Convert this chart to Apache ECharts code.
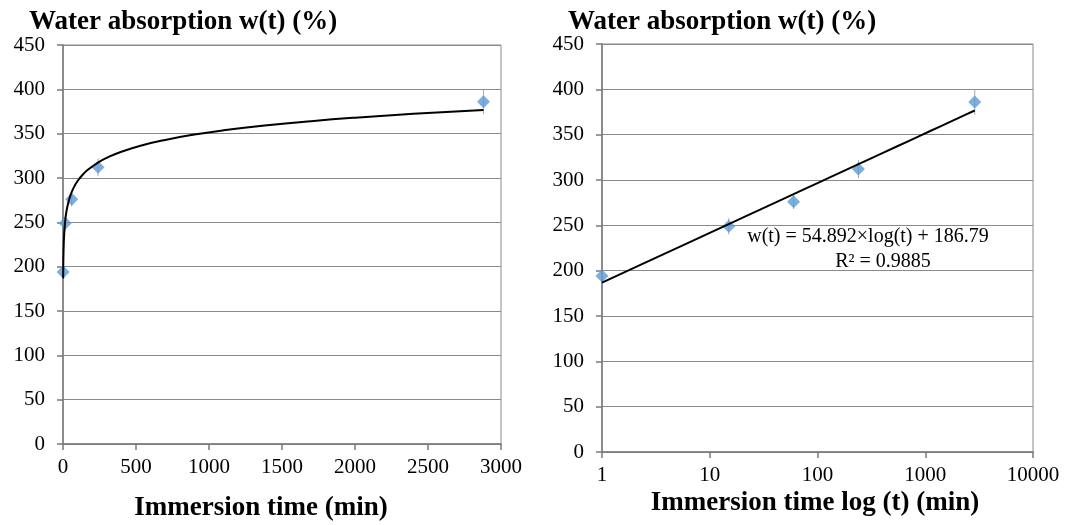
<!DOCTYPE html>
<html>
<head>
<meta charset="utf-8">
<script src="https://cdn.jsdelivr.net/npm/echarts@6/dist/echarts.min.js"></script>
<style>
html,body{margin:0;padding:0;background:#fff;}
#chart{width:1072px;height:525px;}
</style>
</head>
<body>
<div id="chart"></div>
<script>
// ---- data ----
const times = [1, 15, 60, 240, 2880];               // immersion time (min)
const absorption = [194, 249, 276, 312, 386];       // water absorption w(t) (%)
const errors = [3, 9, 8, 10, 14];                   // error bar half-lengths (%)
const yTicks = [0, 50, 100, 150, 200, 250, 300, 350, 400, 450];
const xTicksLinear = [0, 500, 1000, 1500, 2000, 2500, 3000];
const xTicksLog = [1, 10, 100, 1000, 10000];
// regression shown in the chart: w(t) = 54.892×log(t) + 186.79
const fitSlope = 54.892;
const fitIntercept = 186.79;
const fitSamples = [1, 1.5, 2, 3, 5, 7, 10, 15, 20, 30, 45, 60, 80, 100, 130, 170, 240, 300, 400, 550, 700, 900, 1100, 1400, 1700, 2000, 2400, 2880];

const points = times.map((t, i) => [t, absorption[i]]);
const errData = times.map((t, i) => [t, absorption[i] - errors[i], absorption[i] + errors[i]]);
const fitData = fitSamples.map(t => [t, fitSlope * Math.log10(t) + fitIntercept]);

const serif = 'Liberation Serif';
const gridColor = '#8a8a8a';
const axisColor = '#7a7a7a';
const markerColor = '#5B9BD5';
const plain = v => String(v);

function errRender(params, api) {
  const x = api.value(0), lo = api.value(1), hi = api.value(2);
  const p1 = api.coord([x, lo]);
  const p2 = api.coord([x, hi]);
  return {type: 'line', shape: {x1: p1[0], y1: p1[1], x2: p2[0], y2: p2[1]},
          style: {stroke: '#a8a8a8', lineWidth: 1}};
}

const yAxisCommon = {
  type: 'value', min: yTicks[0], max: yTicks[yTicks.length - 1], interval: yTicks[1] - yTicks[0],
  axisLine: {show: true, lineStyle: {color: axisColor, width: 1.5}},
  axisTick: {show: true, inside: false, length: 6, lineStyle: {color: axisColor, width: 1.5}},
  axisLabel: {color: '#000', fontFamily: serif, fontSize: 21, margin: 18, formatter: plain},
  splitLine: {show: true, lineStyle: {color: gridColor, width: 1}}
};
const xLabel = {color: '#000', fontFamily: serif, fontSize: 21, margin: 13, formatter: plain};
const nameStyle = {fontFamily: serif, fontWeight: 'bold', fontSize: 27, fill: '#000'};

const chart = echarts.init(document.getElementById('chart'));
chart.setOption({
  animation: false,
  backgroundColor: '#fff',
  grid: [
    {left: 63, right: 571, top: 45, bottom: 81, show: true, borderColor: gridColor, borderWidth: 1},
    {left: 602, right: 39, top: 44, bottom: 73, show: true, borderColor: gridColor, borderWidth: 1}
  ],
  xAxis: [
    {gridIndex: 0, type: 'value', min: xTicksLinear[0], max: xTicksLinear[xTicksLinear.length - 1],
     interval: xTicksLinear[1] - xTicksLinear[0],
     axisLine: {show: true, lineStyle: {color: axisColor, width: 1.5}},
     axisTick: {show: true, length: 6, lineStyle: {color: axisColor, width: 1.5}},
     axisLabel: xLabel, splitLine: {show: false}},
    {gridIndex: 1, type: 'log', logBase: 10, min: xTicksLog[0], max: xTicksLog[xTicksLog.length - 1],
     axisLine: {show: true, lineStyle: {color: axisColor, width: 1.5}},
     axisTick: {show: true, length: 6, lineStyle: {color: axisColor, width: 1.5}},
     axisLabel: xLabel, minorTick: {show: false}, splitLine: {show: false}}
  ],
  yAxis: [
    Object.assign({gridIndex: 0}, yAxisCommon),
    Object.assign({gridIndex: 1}, yAxisCommon)
  ],
  series: [
    {type: 'custom', xAxisIndex: 0, yAxisIndex: 0, renderItem: errRender, data: errData,
     encode: {x: 0, y: [1, 2]}, z: 2, silent: true},
    {type: 'scatter', xAxisIndex: 0, yAxisIndex: 0, data: points, symbol: 'diamond', symbolSize: 13,
     itemStyle: {color: markerColor}, z: 3},
    {type: 'line', xAxisIndex: 0, yAxisIndex: 0, data: fitData, smooth: true, showSymbol: false,
     lineStyle: {color: '#000', width: 2}, z: 4},
    {type: 'custom', xAxisIndex: 1, yAxisIndex: 1, renderItem: errRender, data: errData,
     encode: {x: 0, y: [1, 2]}, z: 2, silent: true},
    {type: 'scatter', xAxisIndex: 1, yAxisIndex: 1, data: points, symbol: 'diamond', symbolSize: 13,
     itemStyle: {color: markerColor}, z: 3},
    {type: 'line', xAxisIndex: 1, yAxisIndex: 1, data: fitData, showSymbol: false,
     lineStyle: {color: '#000', width: 2}, z: 4}
  ],
  graphic: [
    {type: 'text', x: 29, y: 22,
     style: Object.assign({text: 'Water absorption w(t) (%)', verticalAlign: 'middle', align: 'left'}, nameStyle)},
    {type: 'text', x: 568, y: 22,
     style: Object.assign({text: 'Water absorption w(t) (%)', verticalAlign: 'middle', align: 'left'}, nameStyle)},
    {type: 'text', x: 261, y: 508,
     style: Object.assign({text: 'Immersion time (min)', verticalAlign: 'middle', align: 'center'}, nameStyle)},
    {type: 'text', x: 815, y: 503,
     style: Object.assign({text: 'Immersion time log (t) (min)', verticalAlign: 'middle', align: 'center'}, nameStyle)},
    {type: 'text', x: 868, y: 237,
     style: {text: 'w(t) = 54.892×log(t) + 186.79', fontFamily: serif, fontSize: 20, fill: '#000',
             align: 'center', verticalAlign: 'middle'}},
    {type: 'text', x: 883, y: 262,
     style: {text: 'R² = 0.9885', fontFamily: serif, fontSize: 20, fill: '#000',
             align: 'center', verticalAlign: 'middle'}}
  ]
});
</script>
</body>
</html>
